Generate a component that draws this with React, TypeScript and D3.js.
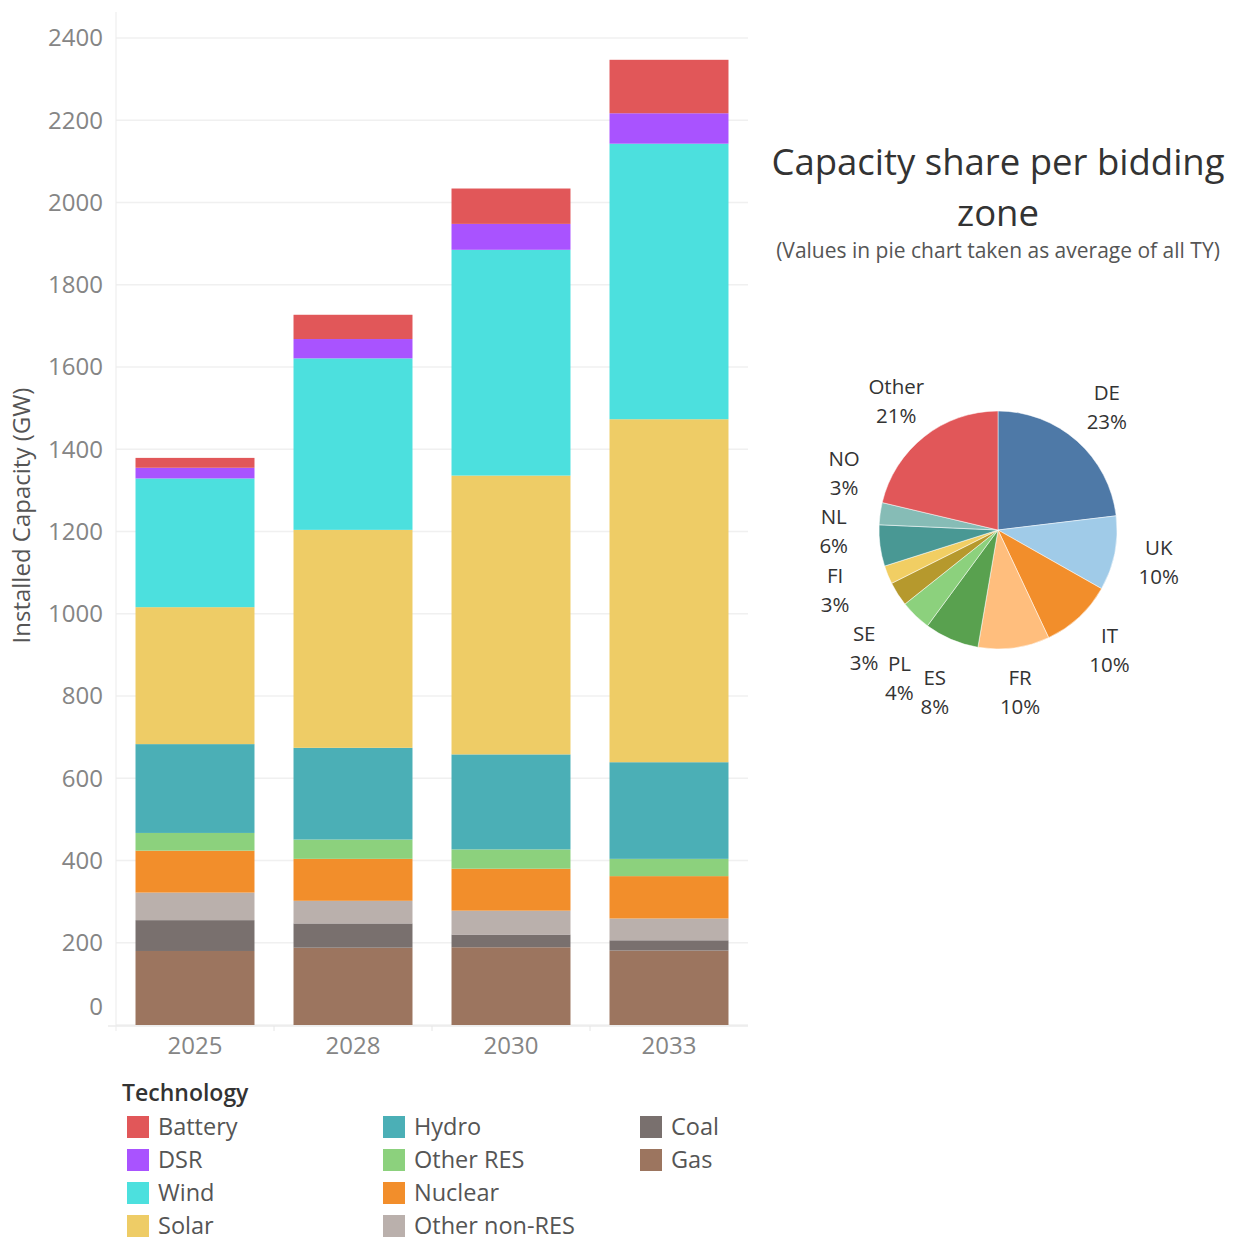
import React, { useEffect, useRef } from 'react';
import * as d3 from 'd3';

// Bar chart data (GW)
const years = ['2025', '2028', '2030', '2033'];
const technologies = ['Gas', 'Coal', 'Other non-RES', 'Nuclear', 'Other RES', 'Hydro', 'Solar', 'Wind', 'DSR', 'Battery'];
const gas = [180, 188, 189, 181];
const coal = [75, 59, 31, 25];
const otherNonRes = [67, 55, 58, 53];
const nuclear = [102, 102, 102, 103];
const otherRes = [43, 47, 47, 42];
const hydro = [216, 223, 231, 235];
const solar = [333, 530, 678, 834];
const wind = [313, 417, 549, 670];
const dsr = [26, 47, 63, 74];
const battery = [24, 59, 86, 130];
const yTicks = [0, 200, 400, 600, 800, 1000, 1200, 1400, 1600, 1800, 2000, 2200, 2400];

// Legend order (column-wise)
const legendOrder = ['Battery', 'DSR', 'Wind', 'Solar', 'Hydro', 'Other RES', 'Nuclear', 'Other non-RES', 'Coal', 'Gas'];

// Pie data (% share, clockwise from top)
const zones = ['DE', 'UK', 'IT', 'FR', 'ES', 'PL', 'SE', 'FI', 'NL', 'NO', 'Other'];
const shares = [23.1, 10.1, 9.8, 9.7, 7.4, 4.2, 3.3, 2.5, 5.6, 3.0, 21.3];
const shareLabels = ['23%', '10%', '10%', '10%', '8%', '4%', '3%', '3%', '6%', '3%', '21%'];

const techColors: Record<string, string> = {
  Battery: '#e15759',
  DSR: '#a953ff',
  Wind: '#4ce0de',
  Solar: '#eecc66',
  Hydro: '#4bafb6',
  'Other RES': '#8cd17d',
  Nuclear: '#f28e2b',
  'Other non-RES': '#bab0ac',
  Coal: '#79706e',
  Gas: '#9c755f',
};

const zoneColors = ['#4e79a7', '#a0cbe8', '#f28e2b', '#ffbe7d', '#59a14f', '#8cd17d', '#b6992d', '#f1ce63', '#499894', '#86bcb6', '#e15759'];

const FONT = '"Open Sans", "Noto Sans", sans-serif';

function App() {
  const ref = useRef<SVGSVGElement>(null);

  useEffect(() => {
    if (!ref.current) return;
    const svg = d3.select(ref.current);
    svg.selectAll('*').remove();

    const series: Record<string, number[]> = {
      Gas: gas,
      Coal: coal,
      'Other non-RES': otherNonRes,
      Nuclear: nuclear,
      'Other RES': otherRes,
      Hydro: hydro,
      Solar: solar,
      Wind: wind,
      DSR: dsr,
      Battery: battery,
    };
    const rows = years.map((yr, i) => {
      const r: any = { year: yr };
      technologies.forEach(t => (r[t] = series[t][i]));
      return r;
    });

    // Plot area
    const left = 116;
    const right = 748;
    const top = 38;
    const bottom = 1025;

    const x = d3.scaleBand().domain(years).range([left, right]).paddingInner(0.247).paddingOuter(0.1235);
    const bandStep = x.step();
    const y = d3.scaleLinear().domain([0, 2400]).range([bottom, top]);

    // gridlines
    svg.append('g')
      .selectAll('line')
      .data(yTicks)
      .enter()
      .append('line')
      .attr('x1', left)
      .attr('x2', right)
      .attr('y1', d => y(d))
      .attr('y2', d => y(d))
      .attr('stroke', '#f0f0f0')
      .attr('stroke-width', 1.5);

    // y axis line
    svg.append('line')
      .attr('x1', left).attr('x2', left)
      .attr('y1', 12).attr('y2', bottom + 6)
      .attr('stroke', '#ebebeb').attr('stroke-width', 1);

    // stacked bars
    const stack = d3.stack<any>().keys(technologies)(rows);
    svg.append('g')
      .selectAll('g')
      .data(stack)
      .enter()
      .append('g')
      .attr('fill', d => techColors[d.key])
      .selectAll('rect')
      .data(d => d)
      .enter()
      .append('rect')
      .attr('x', d => x(d.data.year)!)
      .attr('width', x.bandwidth())
      .attr('y', d => y(d[1]))
      .attr('height', d => y(d[0]) - y(d[1]));

    // x axis line and ticks between bands
    svg.append('line')
      .attr('x1', left - 8).attr('x2', right)
      .attr('y1', bottom + 1).attr('y2', bottom + 1)
      .attr('stroke', '#ebebeb').attr('stroke-width', 1.5);
    svg.append('g')
      .selectAll('line')
      .data(years.slice(1))
      .enter()
      .append('line')
      .attr('x1', d => x(d)! - (bandStep - x.bandwidth()) / 2)
      .attr('x2', d => x(d)! - (bandStep - x.bandwidth()) / 2)
      .attr('y1', bottom + 1)
      .attr('y2', bottom + 6)
      .attr('stroke', '#e6e6e6');

    // y tick labels
    svg.append('g')
      .selectAll('text')
      .data(yTicks)
      .enter()
      .append('text')
      .attr('x', 103)
      .attr('y', d => (d === 0 ? y(d) - 18 : y(d)))
      .attr('dy', '0.35em')
      .attr('text-anchor', 'end')
      .style('font-family', FONT)
      .style('font-size', '24px')
      .style('fill', '#858585')
      .text(d => d);

    // x tick labels
    svg.append('g')
      .selectAll('text')
      .data(years)
      .enter()
      .append('text')
      .attr('x', d => x(d)! + x.bandwidth() / 2)
      .attr('y', 1046)
      .attr('dy', '0.35em')
      .attr('text-anchor', 'middle')
      .style('font-family', FONT)
      .style('font-size', '24px')
      .style('fill', '#858585')
      .text(d => d);

    // y axis title
    svg.append('text')
      .attr('transform', `translate(22,${(383 + 648) / 2}) rotate(-90)`)
      .attr('dy', '0.35em')
      .attr('text-anchor', 'middle')
      .style('font-family', FONT)
      .style('font-size', '24px')
      .style('fill', '#555')
      .text('Installed Capacity (GW)');

    // Legend
    const legend = svg.append('g');
    legend.append('text')
      .attr('x', 122)
      .attr('y', 1093)
      .attr('dy', '0.35em')
      .style('font-family', FONT)
      .style('font-size', '23px')
      .style('font-weight', '600')
      .style('fill', '#333')
      .text('Technology');
    const colX = [127, 383, 640];
    legendOrder.forEach((t, i) => {
      const col = Math.floor(i / 4);
      const row = i % 4;
      const cy = 1127 + row * 33;
      legend.append('rect')
        .attr('x', colX[col])
        .attr('y', cy - 11)
        .attr('width', 22)
        .attr('height', 22)
        .attr('fill', techColors[t]);
      legend.append('text')
        .attr('x', colX[col] + 31)
        .attr('y', cy)
        .attr('dy', '0.33em')
        .style('font-family', FONT)
        .style('font-size', '23.5px')
        .style('fill', '#555')
        .text(t);
    });

    // Pie title
    const titleX = 998;
    svg.append('text')
      .attr('x', titleX).attr('y', 162).attr('dy', '0.35em')
      .attr('text-anchor', 'middle')
      .style('font-family', FONT).style('font-size', '36.5px').style('fill', '#333')
      .text('Capacity share per bidding');
    svg.append('text')
      .attr('x', titleX).attr('y', 213).attr('dy', '0.35em')
      .attr('text-anchor', 'middle')
      .style('font-family', FONT).style('font-size', '36.5px').style('fill', '#333')
      .text('zone');
    svg.append('text')
      .attr('x', titleX).attr('y', 251).attr('dy', '0.35em')
      .attr('text-anchor', 'middle')
      .style('font-family', FONT).style('font-size', '21px').style('fill', '#555')
      .text('(Values in pie chart taken as average of all TY)');

    // Pie
    const cx = 998;
    const cy = 530;
    const radius = 119;
    const pie = d3.pie<number>().sort(null).value(d => d);
    const arcs = pie(shares);
    const arc = d3.arc<d3.PieArcDatum<number>>().innerRadius(0).outerRadius(radius);
    const pieG = svg.append('g').attr('transform', `translate(${cx},${cy})`);
    pieG.selectAll('path')
      .data(arcs)
      .enter()
      .append('path')
      .attr('d', arc)
      .attr('fill', (d, i) => zoneColors[i])
      .attr('stroke', '#fff')
      .attr('stroke-width', 0.5);

    // labels: create, measure, then relax angles so label boxes don't collide
    const labelR = 164;
    const lineH = 29;
    const labels = zones.map((z, i) => {
      const t = pieG.append('text')
        .attr('text-anchor', 'middle')
        .style('font-family', FONT)
        .style('font-size', '20.5px')
        .style('fill', '#333');
      const t1 = t.append('tspan').text(z);
      const t2 = t.append('tspan').text(shareLabels[i]);
      const w = Math.max((t1.node() as any).getComputedTextLength(), (t2.node() as any).getComputedTextLength());
      return { t, t1, t2, w: w + 6, h: lineH * 2 };
    });
    const angles = arcs.map(a => (a.startAngle + a.endAngle) / 2);
    // labels further out towards the lower left, as in the original layout
    const rAt = (a: number) => labelR + Math.max(0, -Math.sin(a)) * Math.max(0, -Math.cos(a)) * 30;
    const pos = (a: number) => [Math.sin(a) * rAt(a), -Math.cos(a) * rAt(a)];
    const step = (0.25 * Math.PI) / 180;
    for (let iter = 0; iter < 600; iter++) {
      let moved = false;
      for (let i = 0; i < angles.length - 1; i++) {
        const [x1, y1] = pos(angles[i]);
        const [x2, y2] = pos(angles[i + 1]);
        const ox = Math.abs(x1 - x2) < (labels[i].w + labels[i + 1].w) / 2;
        const oy = Math.abs(y1 - y2) < (labels[i].h + labels[i + 1].h) / 2;
        if (ox && oy) {
          angles[i] -= step;
          angles[i + 1] += step;
          moved = true;
        }
      }
      if (!moved) break;
    }
    labels.forEach((l, i) => {
      const [lx, ly] = pos(angles[i]);
      l.t1.attr('x', lx).attr('y', ly - lineH / 2).attr('dy', '0.35em');
      l.t2.attr('x', lx).attr('y', ly + lineH / 2).attr('dy', '0.35em');
    });
  }, []);

  return (
    <div style={{ position: 'absolute', left: 0, top: 0 }}>
      <svg ref={ref} width={1235} height={1241} style={{ display: 'block', background: '#fff' }} />
    </div>
  );
}

export default App;
